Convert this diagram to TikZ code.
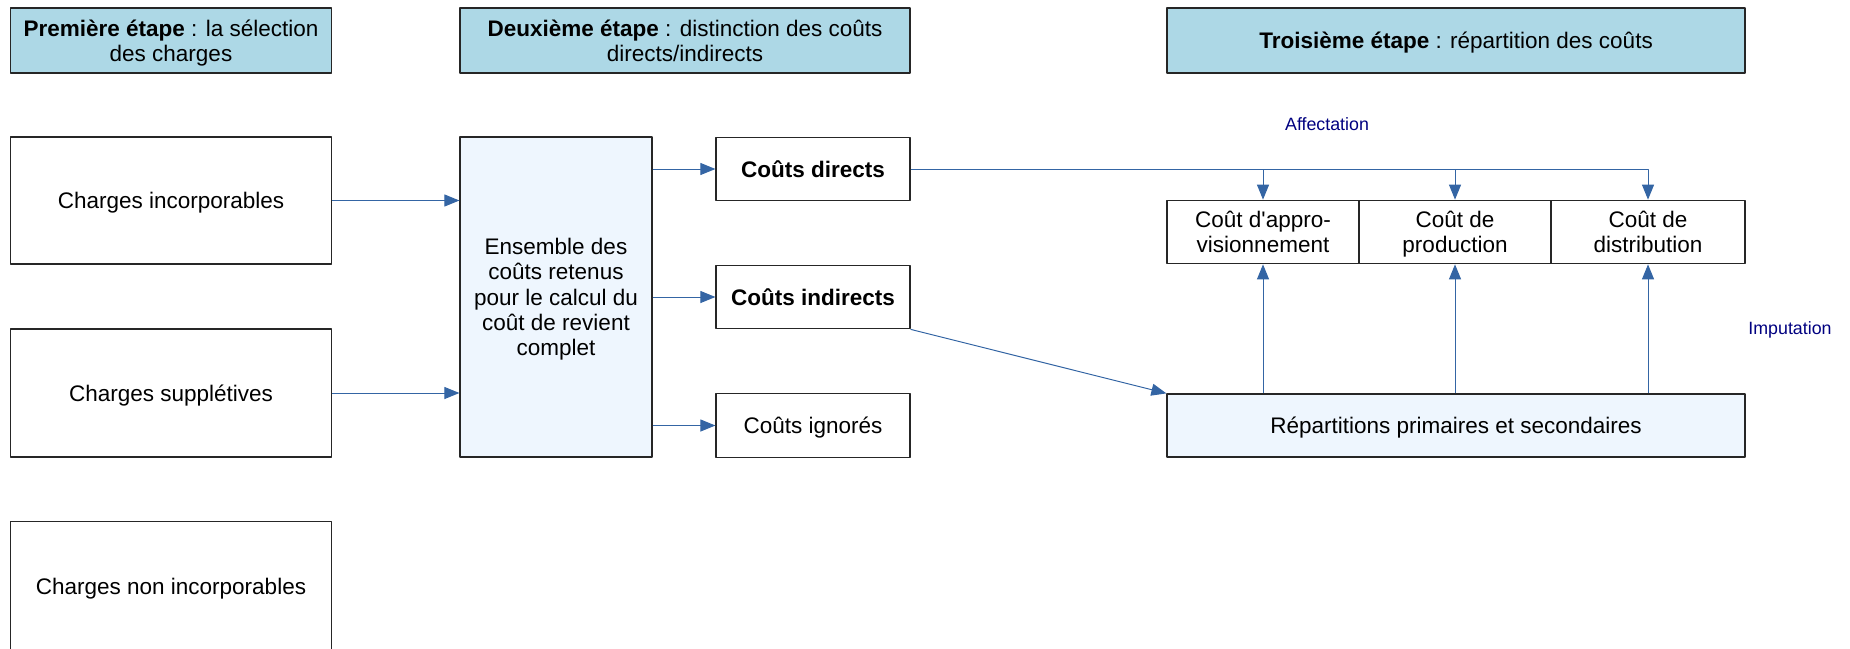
\documentclass[tikz,border=0pt]{standalone}
\usepackage{fontspec}
\setmainfont{Liberation Sans}[Ligatures=TeXOff]
\usetikzlibrary{arrows.meta}
\definecolor{bleuentete}{HTML}{ADD8E6}
\definecolor{bleufond}{HTML}{EEF6FE}
\definecolor{bleufleche}{HTML}{3465A4}
\definecolor{bleuetiq}{HTML}{000080}
\begin{document}
\begin{tikzpicture}[x=0.5pt, y=-0.5pt, font=\fontsize{11.25}{12.6}\selectfont, line join=round,
  boite/.style={draw=black!85, line width=0.6pt, fill=white, align=center, inner sep=0pt, text depth=0pt},
  entete/.style={boite, fill=bleuentete, minimum height=32.5pt},
  fl/.style={draw=bleufleche, line width=0.5pt, -{Triangle[length=7.5pt,width=6pt]}},
  etiq/.style={text=bleuetiq, font=\fontsize{8.9}{10}\selectfont}]
 \useasboundingbox (0,0) rectangle (1850,648);
 % en-tetes des trois etapes
 \node[entete, minimum width=160.5pt] (e1) at (171,40.5) {\textbf{Première étape} : la sélection\\des charges};
 \node[entete, minimum width=225pt] (e2) at (685,40.5) {\textbf{Deuxième étape} : distinction des coûts\\directs/indirects};
 \node[entete, minimum width=289pt] (e3) at (1456,40.5) {\textbf{Troisième étape} : répartition des coûts};
 % charges
 \node[boite, minimum width=160.5pt, minimum height=63.5pt] (inc) at (171,200.5) {Charges incorporables};
 \node[boite, minimum width=160.5pt, minimum height=64pt] (sup) at (171,393) {Charges supplétives};
 \node[boite, minimum width=160.5pt, minimum height=64.5pt] (non) at (171,586) {Charges non incorporables};
 \node[boite, fill=bleufond, minimum width=96pt, minimum height=160pt] (ens) at (556,297) {Ensemble des\\coûts retenus\\pour le calcul du\\coût de revient\\complet};
 % couts
 \node[boite, minimum width=97pt, minimum height=31.75pt] (dir) at (813,169) {\textbf{Coûts directs}};
 \node[boite, minimum width=97pt, minimum height=31.75pt] (ind) at (813,297) {\textbf{Coûts indirects}};
 \node[boite, minimum width=97pt, minimum height=31.75pt] (ign) at (813,425.5) {Coûts ignorés};
 \node[boite, minimum width=96pt, minimum height=31.75pt] (app) at (1263,232) {Coût d'appro-\\visionnement};
 \node[boite, minimum width=96pt, minimum height=31.75pt] (prod) at (1455,232) {Coût de\\production};
 \node[boite, minimum width=97pt, minimum height=31.75pt] (dist) at (1648,232) {Coût de\\distribution};
 \node[boite, fill=bleufond, minimum width=289pt, minimum height=31.5pt] (rep) at (1456,425.5) {Répartitions primaires et secondaires};
 \node[etiq] (aff) at (1327,124) {Affectation};
 \node[etiq] (imp) at (1790,330) {Imputation};
 % fleches
 \foreach \n in {inc,sup} \draw[fl] (\n) -- (\n -| ens.west);
 \foreach \n in {dir,ind,ign} \draw[fl] (ens.east |- \n) -- (\n);
 \draw[fl] (dir.east) -| (dist.north);
 \foreach \n in {app,prod} \draw[fl] (dir.east -| \n.north) -- (\n.north);
 \draw[fl] (ind.south east) -- (rep.north west);
 \foreach \n in {app,prod,dist} \draw[fl] (rep.north -| \n.south) -- (\n.south);
\end{tikzpicture}
\end{document}
